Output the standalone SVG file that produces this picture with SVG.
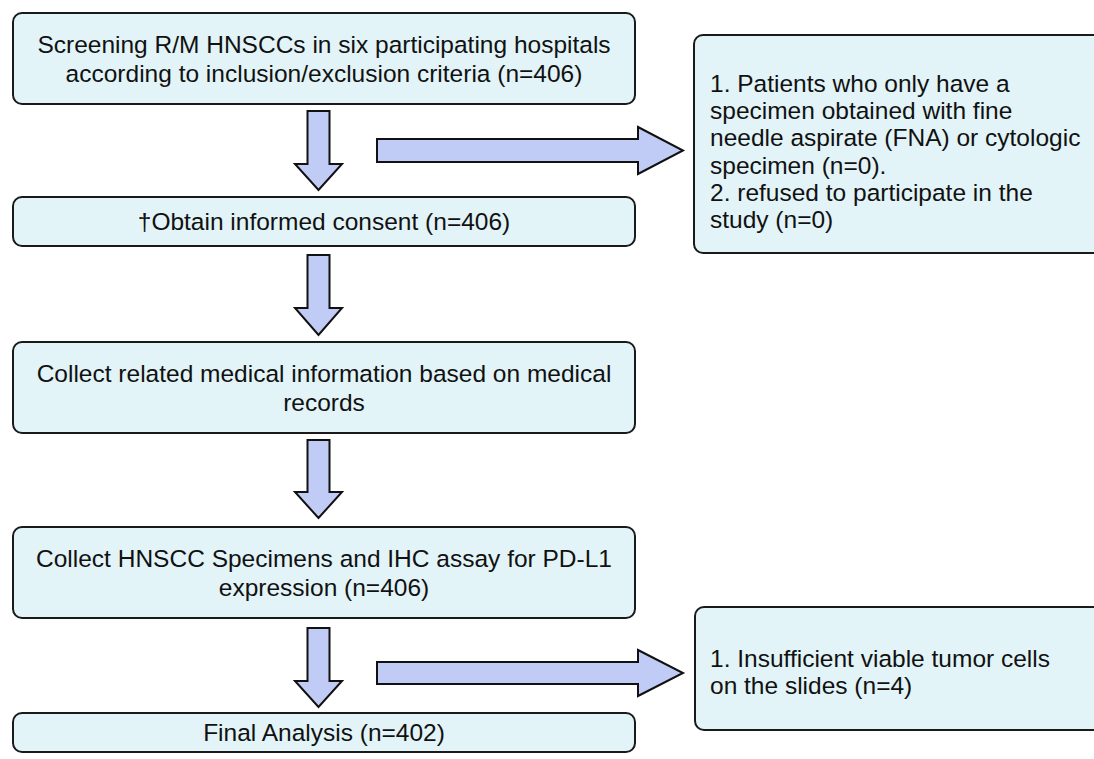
<svg xmlns="http://www.w3.org/2000/svg" width="1094" height="759" viewBox="0 0 1094 759">
<style>
.box{fill:#E2F4F8;stroke:#1a1a1a;stroke-width:2}
.arr{fill:#C0CCF5;stroke:#111;stroke-width:2;stroke-linejoin:miter}
text{font-family:"Liberation Sans",Arial,sans-serif;font-size:24.5px;fill:#111}
.c{text-anchor:middle}
</style>
<rect width="1094" height="759" fill="#fff"/>
<g id="connectors">
<polygon class="arr" points="307.5,111 329.5,111 329.5,164 342,164 318.5,190 295,164 307.5,164"/>
<polygon class="arr" points="307.5,255 329.5,255 329.5,308 342,308 318.5,335 295,308 307.5,308"/>
<polygon class="arr" points="307.5,440 329.5,440 329.5,492 342,492 318.5,518 295,492 307.5,492"/>
<polygon class="arr" points="307.5,628 329.5,628 329.5,681 342,681 318.5,707 295,681 307.5,681"/>
<polygon class="arr" points="377,139 638,139 638,127 683,150.5 638,174 638,162 377,162"/>
<polygon class="arr" points="377,662 638,662 638,650 683,673 638,696 638,684 377,684"/>
</g>
<g id="n1">
<rect class="box" x="13" y="13" width="622" height="91" rx="9"/>
<text class="c" x="324" y="52.5">Screening R/M HNSCCs in six participating hospitals</text>
<text class="c" x="324" y="81.5">according to inclusion/exclusion criteria (n=406)</text>
</g>
<g id="n2">
<rect class="box" x="13" y="197" width="622" height="49" rx="9"/>
<text class="c" x="324" y="230">†Obtain informed consent (n=406)</text>
</g>
<g id="n3">
<rect class="box" x="13" y="342" width="622" height="91" rx="9"/>
<text class="c" x="324" y="381.5">Collect related medical information based on medical</text>
<text class="c" x="324" y="410.5">records</text>
</g>
<g id="n4">
<rect class="box" x="13" y="527" width="622" height="91" rx="9"/>
<text class="c" x="324" y="566.5">Collect HNSCC Specimens and IHC assay for PD-L1</text>
<text class="c" x="324" y="595.5">expression (n=406)</text>
</g>
<g id="n5">
<rect class="box" x="13" y="713" width="622" height="39" rx="9"/>
<text class="c" x="324" y="740.5">Final Analysis (n=402)</text>
</g>
<g id="n6">
<rect class="box" x="694" y="35" width="420" height="218" rx="9"/>
<text x="710" y="92">1. Patients who only have a</text>
<text x="710" y="119.2">specimen obtained with fine</text>
<text x="710" y="146.4">needle aspirate (FNA) or cytologic</text>
<text x="710" y="173.6">specimen (n=0).</text>
<text x="710" y="200.8">2. refused to participate in the</text>
<text x="710" y="228">study (n=0)</text>
</g>
<g id="n7">
<rect class="box" x="695" y="607" width="420" height="123" rx="9"/>
<text x="710" y="667">1. Insufficient viable tumor cells</text>
<text x="710" y="694">on the slides (n=4)</text>
</g>
</svg>
